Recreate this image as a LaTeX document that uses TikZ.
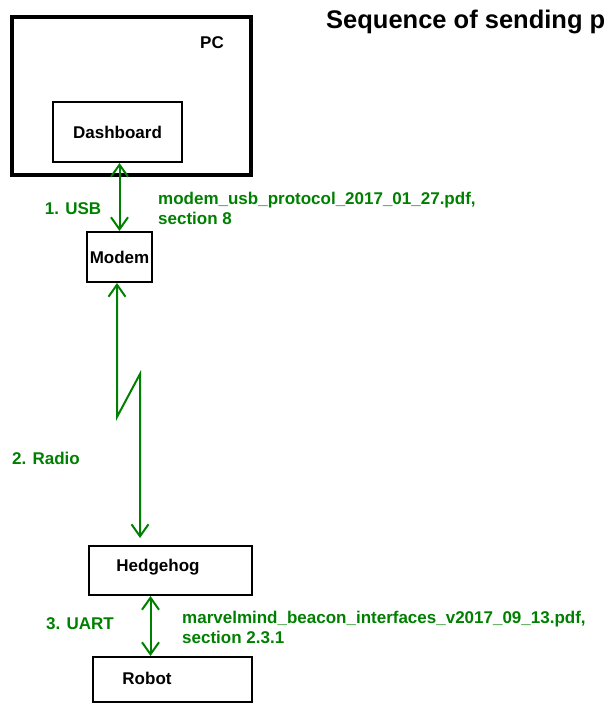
\documentclass[tikz,border=0pt]{standalone}
\usepackage{fontspec}
\setmainfont{Liberation Sans}
\usepackage{xcolor}
\usepackage{tikz}
\usetikzlibrary{arrows.meta,positioning}
\definecolor{LinkGreen}{HTML}{008000}

\begin{document}
\begin{tikzpicture}[x=1pt,y=-1pt,
box/.style={draw=black,line width=2pt,inner sep=0pt,font=\fontsize{17}{17}\selectfont\bfseries},
lbl/.style={inner sep=0pt,font=\fontsize{17}{17}\selectfont\bfseries},
link/.style={{Straight Barb[length=12pt,width=17pt]}-{Straight Barb[length=12pt,width=17pt]},line width=2pt,draw=LinkGreen},
note/.style={inner sep=0pt,anchor=west,text=LinkGreen,align=left,font=\fontsize{17}{20}\selectfont\bfseries}]
\path[use as bounding box,clip] (0,0) rectangle (603,704);
% title, cut at the right edge
\node[anchor=base west,inner sep=0pt,font=\fontsize{25.5}{25.5}\selectfont\bfseries] (title) at (326,28.5) {Sequence of sending p};
% boxes
\node[box,line width=4pt,minimum width=239pt,minimum height=158pt] (pc) at (131.5,96) {};
\node[lbl] (pclbl) at (212,43) {PC};
\node[box,minimum width=129pt,minimum height=60pt] (dash) at (117.5,132) {Dashboard};
\node[box,minimum width=65pt,minimum height=50pt] (modem) at (119.5,257) {Modem};
\node[box,minimum width=163pt,minimum height=49pt] (hedge) at (170.5,570.5) {};
\node[lbl] (hedgelbl) at (158,567) {Hedgehog};
\node[box,minimum width=159pt,minimum height=45pt] (robot) at (172.5,679.5) {};
\node[lbl] (robotlbl) at (147,678) {Robot};
% links
\coordinate (radioend) at (140,538);
\draw[link] (modem.north) -- (modem.north |- dash.south);
\draw[link] ([xshift=-2.5pt]modem.south) -- ++(0,134) -- ++(23,-43) -- (radioend);
\draw[link] ([xshift=-20pt]hedge.south) -- ([xshift=-22pt]robot.north);
% link labels
\node[lbl,text=LinkGreen] (usb) at (73,209) {1. USB};
\node[lbl,text=LinkGreen] (radio) at (46,458) {2. Radio};
\node[lbl,text=LinkGreen] (uart) at (80,624) {3. UART};
\node[note] (usbdoc) at (158,208.5) {modem\_usb\_protocol\_2017\_01\_27.pdf,\\section 8};
\node[note] (uartdoc) at (182,627.5) {marvelmind\_beacon\_interfaces\_v2017\_09\_13.pdf,\\section 2.3.1};
\end{tikzpicture}
\end{document}
